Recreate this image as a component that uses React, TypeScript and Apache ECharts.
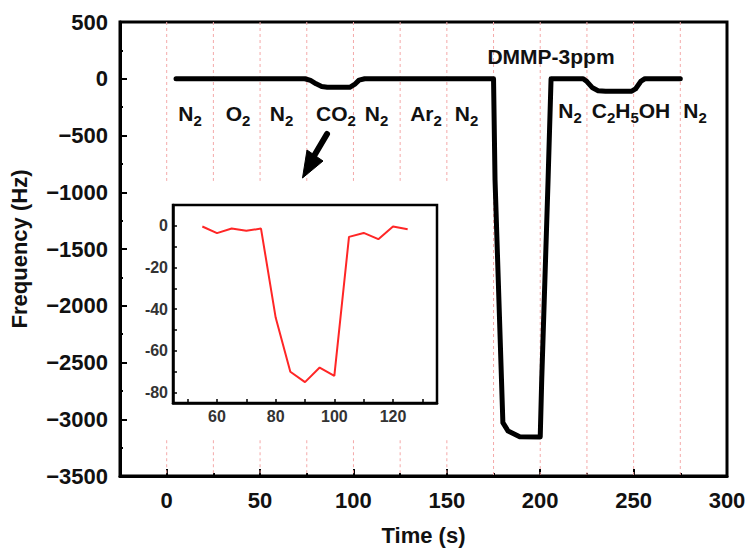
import React, { useEffect, useRef } from 'react';
import * as echarts from 'echarts';

// ---------- data ----------
const mainTime = [5, 74, 77, 80, 83, 86, 98, 101, 103, 106, 175, 175.8, 180, 182.8, 189, 200, 200.8, 204.2, 205.8, 223, 225, 228, 231, 235, 249, 251, 254, 256, 275];
const mainFreq = [0, 0, -15, -45, -68, -75, -75, -45, -12, 0, 0, -892, -3030, -3104, -3154, -3156, -2650, -892, 0, 0, -25, -80, -105, -110, -110, -90, -20, 0, 0];

const insetTime = [55, 60, 65, 70, 75, 80, 85, 90, 95, 100, 105, 110, 115, 120, 125];
const insetFreq = [-0.3, -3.5, -1.3, -2.4, -1.3, -44, -70, -75, -68, -72, -5.3, -3.4, -6.4, -0.3, -1.6];

const guideTimes = [0, 25, 50, 75, 100, 125, 150, 175, 200, 225, 250, 275];

const row1Gases = ['N2', 'O2', 'N2', 'CO2', 'N2', 'Ar2', 'N2'];
const row2Gases = ['N2', 'C2H5OH', 'N2'];
const peakLabel = 'DMMP-3ppm';
const xName = 'Time (s)';
const yName = 'Frequency (Hz)';

// ---------- layout ----------
const row1X = [190, 238, 281.5, 336, 376.5, 426, 466.5];
const row1Y = 113;
const row2X = [570, 631, 695];
const row2Y = 110;
// white panel behind the inset hides the guide lines (in main data units)
const panelRight = 160;
const panelTop = -900;
const panelBottom = -3185;

const FONT = "'Liberation Sans', Arial, Helvetica, sans-serif";
const INK = '#111';

function toRich(s: string): string {
  return s.replace(/(\d+)|(\D+)/g, (m, d) => (d ? `{s|${m}}` : `{n|${m}}`));
}

const rich = {
  n: { fontSize: 21, fontWeight: 'bold', fontFamily: FONT, fill: INK, color: INK, lineHeight: 26 },
  s: { fontSize: 15, fontWeight: 'bold', fontFamily: FONT, fill: INK, color: INK, lineHeight: 10, padding: [14, 0, 0, 0] },
};

function gasText(label: string, x: number, y: number) {
  return {
    type: 'text',
    x,
    y,
    z: 10,
    style: {
      text: toRich(label),
      rich,
      align: 'center',
      verticalAlign: 'middle',
    },
  };
}

// guide line segments, broken by '-' gaps
const guideData: any[] = [];
guideTimes.forEach((t) => {
  if (t <= panelRight) {
    guideData.push([t, 500], [t, panelTop], [t, '-'], [t, panelBottom], [t, -3500], [t, '-']);
  } else {
    guideData.push([t, 500], [t, -3500], [t, '-']);
  }
});

const tickLine = { color: '#000', width: 2 };
const minus = (v: number) => String(v).replace('-', '\u2212');

const option: any = {
  animation: false,
  backgroundColor: '#fff',
  grid: [
    { left: 120, right: 22, top: 22, bottom: 75, show: true, borderColor: '#000', borderWidth: 3, outerBoundsMode: 'none', containLabel: false },
    { left: 173, right: 312, top: 205, bottom: 148, show: true, borderColor: '#000', borderWidth: 2.5, backgroundColor: '#fff', outerBoundsMode: 'none', containLabel: false, z: 5 },
  ],
  xAxis: [
    {
      gridIndex: 0, type: 'value', position: 'bottom', min: -25, max: 300, interval: 25,
      axisLine: { show: true, onZero: false, lineStyle: { color: '#000', width: 3 } },
      axisTick: { show: true, inside: true, length: 3, lineStyle: tickLine },
      axisLabel: { show: false },
      splitLine: { show: false },
      minorSplitLine: { show: false },
    },
    {
      gridIndex: 0, type: 'value', position: 'bottom', min: -25, max: 300, minInterval: 50, maxInterval: 50,
      axisLine: { show: false, onZero: false },
      axisTick: { show: true, inside: true, length: 7, lineStyle: tickLine },
      axisLabel: {
        show: true, margin: 13, fontSize: 22, fontWeight: 'bold', fontFamily: FONT, color: INK,
        formatter: (v: number) => (v % 50 === 0 ? minus(v) : ''),
      },
      splitLine: { show: false },
      name: xName, nameLocation: 'middle', nameGap: 48,
      nameTextStyle: { fontSize: 22, fontWeight: 'bold', fontFamily: FONT, color: INK },
    },
    {
      gridIndex: 1, type: 'value', position: 'bottom', min: 45, max: 135, minInterval: 10, maxInterval: 10, z: 5,
      axisLine: { show: true, onZero: false, lineStyle: { color: '#000', width: 2.5 } },
      axisTick: { show: true, inside: true, length: 4, lineStyle: { color: '#000', width: 1.5 } },
      axisLabel: {
        show: true, margin: 5, fontSize: 16, fontWeight: 'bold', fontFamily: FONT, color: '#333',
        formatter: (v: number) => (v % 20 === 0 && v >= 60 ? String(v) : ''),
      },
      splitLine: { show: false },
    },
  ],
  yAxis: [
    {
      gridIndex: 0, type: 'value', min: -3500, max: 500, interval: 500,
      axisLine: { show: true, onZero: false, lineStyle: { color: '#000', width: 3 } },
      axisTick: { show: true, inside: true, length: 7, lineStyle: tickLine },
      minorTick: { show: true, splitNumber: 2, length: 3, lineStyle: tickLine },
      axisLabel: { show: true, margin: 12, fontSize: 22, fontWeight: 'bold', fontFamily: FONT, color: INK, formatter: minus },
      splitLine: { show: false },
      name: yName, nameLocation: 'middle', nameGap: 90,
      nameTextStyle: { fontSize: 22, fontWeight: 'bold', fontFamily: FONT, color: INK },
    },
    {
      gridIndex: 1, type: 'value', min: -85, max: 10, minInterval: 10, maxInterval: 10, z: 5,
      axisLine: { show: true, onZero: false, lineStyle: { color: '#000', width: 2.5 } },
      axisTick: { show: true, inside: true, length: 4, lineStyle: { color: '#000', width: 1.5 } },
      axisLabel: {
        show: true, margin: 5, fontSize: 16, fontWeight: 'bold', fontFamily: FONT, color: '#333',
        formatter: (v: number) => (v % 20 === 0 ? String(v === 0 ? 0 : v) : ''),
      },
      splitLine: { show: false },
    },
  ],
  series: [
    {
      name: 'guides', type: 'line', xAxisIndex: 0, yAxisIndex: 0, symbol: 'none', z: 1,
      silent: true, connectNulls: false,
      data: guideData,
      lineStyle: { color: '#f4a9a9', width: 1, type: [3, 3] },
    },
    {
      type: 'line', xAxisIndex: 0, yAxisIndex: 0, symbol: 'none', z: 3,
      data: mainTime.map((t, i) => [t, mainFreq[i]]),
      lineStyle: { color: '#000', width: 5, cap: 'round', join: 'round' },
    },
    {
      type: 'line', xAxisIndex: 2, yAxisIndex: 1, symbol: 'none', z: 6,
      data: insetTime.map((t, i) => [t, insetFreq[i]]),
      lineStyle: { color: '#ff2626', width: 2 },
    },
  ],
  graphic: [
    ...row1Gases.map((g, i) => gasText(g, row1X[i], row1Y)),
    ...row2Gases.map((g, i) => gasText(g, row2X[i], row2Y)),
    {
      type: 'text', x: 551, y: 56, z: 10,
      style: { text: peakLabel, fontSize: 21, fontWeight: 'bold', fontFamily: FONT, fill: INK, align: 'center', verticalAlign: 'middle' },
    },
    {
      type: 'line', z: 10,
      shape: { x1: 327, y1: 134, x2: 314, y2: 156 },
      style: { stroke: '#000', lineWidth: 6, lineCap: 'round' },
    },
    {
      type: 'polygon', z: 10,
      shape: { points: [[302.5, 178], [307, 150], [323, 161]] },
      style: { fill: '#000', stroke: '#000', lineWidth: 1, lineJoin: 'round' },
    },
  ],
};

export default function App() {
  const ref = useRef<HTMLDivElement>(null);
  useEffect(() => {
    const chart = echarts.init(ref.current!, null, { renderer: 'svg' });
    chart.setOption(option);
    return () => chart.dispose();
  }, []);
  return <div ref={ref} style={{ position: 'absolute', left: 0, top: 0, width: 749, height: 551 }} />;
}
